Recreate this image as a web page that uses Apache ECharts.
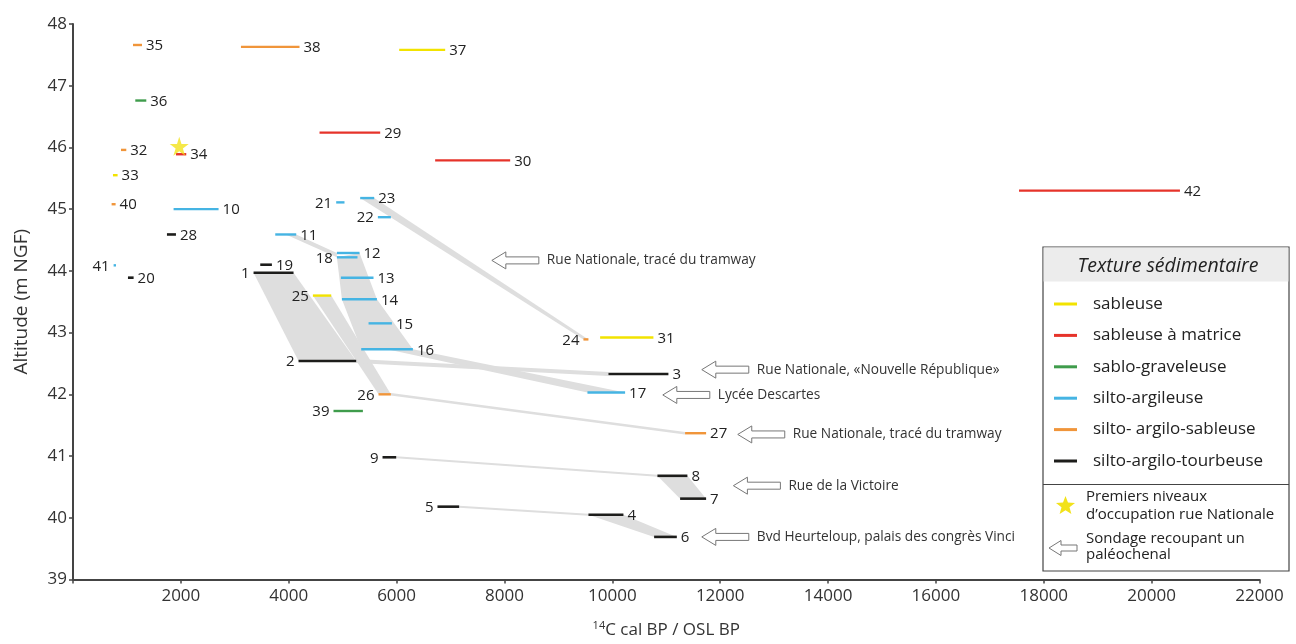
<!DOCTYPE html>
<html><head><meta charset="utf-8">
<script src="https://cdn.jsdelivr.net/npm/echarts@6/dist/echarts.min.js"></script>
<style>html,body{margin:0;padding:0;background:#fff}#c{width:1296px;height:644px}</style>
</head><body><div id="c"></div>
<script>
// ---------- data ----------
const textures = ['sableuse','sableuse à matrice','sablo-graveleuse','silto-argileuse','silto- argilo-sableuse','silto-argilo-tourbeuse'];
const segId      = [1,2,3,4,5,6,7,8,9,10,11,12,13,14,15,16,17,18,19,20,21,22,23,24,25,26,27,28,29,30,31,32,33,34,35,36,37,38,39,40,41,42];
const segStart   = [3348,4182,9928,9557,6758,10775,11257,10836,5739,1865,3750,4893,4967,4986,5480,5344,9539,4893,3472,1019,4880,5653,5325,9465,4448,5665,11349,1742,4571,6715,9774,890,741,1909,1112,1155,6048,3114,4830,716,753,17541];
const segEnd     = [4089,5251,11040,10206,7160,11196,11739,11392,5993,2699,4139,5313,5572,5635,5913,6302,10237,5275,3688,1124,5034,5894,5585,9557,4788,5894,11739,1909,5696,8106,10762,988,827,2100,1279,1359,6901,4200,5375,790,797,20525];
const segAlt     = [43.97,42.54,42.33,40.05,40.18,39.69,40.31,40.68,40.98,45.00,44.59,44.29,43.89,43.54,43.15,42.73,42.03,44.22,44.10,43.89,45.11,44.87,45.18,42.89,43.60,42.00,41.37,44.59,46.24,45.79,42.92,45.96,45.55,45.89,47.66,46.76,47.58,47.63,41.73,45.08,44.09,45.30];
// texture index into `textures`
const segTexture = [5,5,5,5,5,5,5,5,5,3,3,3,3,3,3,3,3,3,5,5,3,3,3,4,0,4,4,5,1,1,0,4,0,1,4,2,0,4,2,4,3,1];
const segLabelSide = ['L','L','R','R','L','R','R','R','L','R','R','R','R','R','R','R','R','L','R','R','L','L','R','L','L','L','R','R','R','R','R','R','R','R','R','R','R','R','L','R','L','R'];
// correlation areas between sections (vertex = segment id + L/R/M end)
const bands = [
  ['1L','1R','2R','2L'],
  ['25L','25R','26R','26L'],
  ['11M','11R','12L','18L'],
  ['18L','12R','14R','16R','16L','14L'],
  ['16M','16R','17R','17L'],
  ['23L','23R','24R','24L'],
  ['8L','8R','7R','7L'],
  ['4L','4R','6R','6L']
];
const links = [['2R','3L'],['26R','27L'],['9R','8L'],['5R','4L']];
// first occupation level
const starX = [1970];
const starAlt = [46.02];
// palaeochannel annotations
const noteX = [7766,11659,10936,12326,12245,11659];
const noteAlt = [44.17,42.40,41.99,41.35,40.52,39.69];
const noteText = ['Rue Nationale, tracé du tramway','Rue Nationale, «Nouvelle République»','Lycée Descartes','Rue Nationale, tracé du tramway','Rue de la Victoire','Bvd Heurteloup, palais des congrès Vinci'];
// axes
const xMin = 0, xMax = 22000, xStep = 2000;
const yMin = 39, yMax = 48, yStep = 1;

// ---------- style ----------
const FONT = '"Open Sans", "Liberation Sans", sans-serif';
const textureColors = ['#f2e300','#e6332a','#3f9c4c','#45b4e3','#f0953a','#1d1d1b'];
const bandColor = '#dedede';
const linkWidths = [4, 2.5, 2, 2];
const STAR = 'path://M50,0 L61.2,34.5 L97.6,34.5 L68.2,55.9 L79.4,90.5 L50,69.1 L20.6,90.5 L31.8,55.9 L2.4,34.5 L38.8,34.5 Z';

function starPoints(cx, cy, R) {
  const pts = [];
  for (let k = 0; k < 10; k++) {
    const r = k % 2 ? R * 0.42 : R, a = -Math.PI / 2 + k * Math.PI / 5;
    pts.push([cx + r * Math.cos(a), cy + r * Math.sin(a)]);
  }
  return pts;
}
function vtx(r) {
  const side = r.slice(-1), i = segId.indexOf(+r.slice(0, -1));
  const x = side === 'L' ? segStart[i] : side === 'R' ? segEnd[i] : (segStart[i] + segEnd[i]) / 2;
  return [x, segAlt[i]];
}

const series = [];
// bands
series.push({
  type: 'custom', name: 'bands', z: 1, silent: true,
  data: bands.map(b => vtx(b[0])),
  renderItem: (p, api) => ({
    type: 'polygon',
    shape: { points: bands[p.dataIndex].map(r => api.coord(vtx(r))) },
    style: { fill: bandColor }
  })
});
series.push({
  type: 'custom', name: 'links', z: 1, silent: true,
  data: links.map(b => vtx(b[0])),
  renderItem: (p, api) => {
    const a = api.coord(vtx(links[p.dataIndex][0])), b = api.coord(vtx(links[p.dataIndex][1]));
    return { type: 'line', shape: { x1: a[0], y1: a[1], x2: b[0], y2: b[1] },
      style: { stroke: bandColor, lineWidth: linkWidths[p.dataIndex] } };
  }
});
// texture series
textures.forEach((name, t) => {
  const idx = segId.map((_, i) => i).filter(i => segTexture[i] === t);
  series.push({
    type: 'custom', name, z: 3,
    itemStyle: { color: textureColors[t] },
    encode: { x: [0, 1], y: 2 },
    data: idx.map(i => [segStart[i], segEnd[i], segAlt[i]]),
    renderItem: (p, api) => {
      const i = idx[p.dataIndex];
      const a = api.coord([api.value(0), api.value(2)]);
      const b = api.coord([api.value(1), api.value(2)]);
      const left = segLabelSide[i] === 'L';
      return {
        type: 'group', children: [
          { type: 'line', shape: { x1: a[0], y1: a[1], x2: b[0], y2: b[1] },
            style: { stroke: textureColors[t], lineWidth: t === 5 ? 2.6 : 2.4 } },
          { type: 'text', style: { text: String(segId[i]), x: left ? a[0] - 4 : b[0] + 4, y: a[1] + 1,
            align: left ? 'right' : 'left', verticalAlign: 'middle', fontSize: 15, fontFamily: FONT, fill: '#222' } }
        ]
      };
    }
  });
});
// star
series.push({
  type: 'scatter', name: 'star', z: 4, symbol: STAR, symbolSize: 19,
  itemStyle: { color: '#f2e21a' }, data: starX.map((x, i) => [x, starAlt[i]])
});
// annotations
series.push({
  type: 'custom', name: 'notes', z: 4,
  data: noteX.map((x, i) => [x, noteAlt[i]]),
  renderItem: (p, api) => {
    const c = api.coord([api.value(0), api.value(1)]);
    const x = c[0], y = c[1];
    return {
      type: 'group', children: [
        { type: 'polygon', shape: { points: [[x, y], [x + 14, y - 8.5], [x + 14, y - 3.5], [x + 47, y - 3.5], [x + 47, y + 3.5], [x + 14, y + 3.5], [x + 14, y + 8.5]] },
          style: { fill: '#fff', stroke: '#777', lineWidth: 1 } },
        { type: 'text', style: { text: noteText[p.dataIndex], x: x + 55, y: y, align: 'left', verticalAlign: 'middle',
          fontSize: 13.7, fontFamily: FONT, fill: '#333' } }
      ]
    };
  }
});

const chart = echarts.init(document.getElementById('c'), null, { renderer: 'canvas' });
chart.setOption({
  animation: false,
  backgroundColor: '#fff',
  grid: { left: 73, right: 36.5, top: 24, bottom: 62.3 },
  xAxis: {
    type: 'value', min: xMin, max: xMax, interval: xStep,
    name: '{sup|14}C cal BP / OSL BP', nameLocation: 'middle', nameGap: 41,
    nameTextStyle: { fontSize: 17, fontFamily: FONT, color: '#333',
      rich: { sup: { fontSize: 11, fontFamily: FONT, color: '#333', padding: [0, 0, 9, 0] } } },
    axisLine: { lineStyle: { color: '#444', width: 2 } },
    axisTick: { length: 4, lineStyle: { color: '#444', width: 1.5 } },
    axisLabel: { fontSize: 17, fontFamily: FONT, color: '#333', margin: 8, formatter: v => v === 0 ? '' : String(v) },
    splitLine: { show: false }
  },
  yAxis: {
    type: 'value', min: yMin, max: yMax, interval: yStep,
    name: 'Altitude (m NGF)', nameLocation: 'middle', nameGap: 42,
    nameTextStyle: { fontSize: 19, fontFamily: FONT, color: '#333' },
    axisLine: { lineStyle: { color: '#444', width: 2 } },
    axisTick: { length: 4, lineStyle: { color: '#444', width: 1.5 } },
    axisLabel: { fontSize: 17, fontFamily: FONT, color: '#333', margin: 6 },
    splitLine: { show: false }
  },
  legend: {
    data: textures, orient: 'vertical', left: 1054, top: 294, padding: 0,
    icon: 'rect', itemWidth: 23, itemHeight: 3, itemGap: 11.4,
    selectedMode: false,
    textStyle: { fontSize: 17, fontFamily: FONT, color: '#222', lineHeight: 20, padding: [0, 0, 0, 11] }
  },
  graphic: [
    { type: 'rect', z: 0, shape: { x: 1043, y: 247, width: 246, height: 324 }, style: { fill: '#fff', stroke: '#444', lineWidth: 1.2 } },
    { type: 'rect', z: 1, shape: { x: 1043.6, y: 247.6, width: 244.8, height: 34 }, style: { fill: '#ececec' } },
    { type: 'text', z: 2, style: { text: 'Texture sédimentaire', x: 1168, y: 266, align: 'center', verticalAlign: 'middle', fontSize: 19.5, fontStyle: 'italic', fontFamily: FONT, fill: '#222' } },
    { type: 'line', z: 2, shape: { x1: 1043, y1: 484.5, x2: 1289, y2: 484.5 }, style: { stroke: '#444', lineWidth: 1.2 } },
    { type: 'polygon', z: 2, shape: { points: starPoints(1065.5, 506, 10) }, style: { fill: '#f2e21a' } },
    { type: 'text', z: 2, style: { text: 'Premiers niveaux\nd’occupation rue Nationale', x: 1086, y: 506, align: 'left', verticalAlign: 'middle', fontSize: 15, lineHeight: 18, fontFamily: FONT, fill: '#222' } },
    { type: 'polygon', z: 2, shape: { points: [[1049, 548], [1061, 540.5], [1061, 545], [1077, 545], [1077, 551], [1061, 551], [1061, 555.5]] }, style: { fill: '#fff', stroke: '#777', lineWidth: 1 } },
    { type: 'text', z: 2, style: { text: 'Sondage recoupant un\npaléochenal', x: 1086, y: 547, align: 'left', verticalAlign: 'middle', fontSize: 15, lineHeight: 16, fontFamily: FONT, fill: '#222' } }
  ],
  series
});
</script></body></html>
